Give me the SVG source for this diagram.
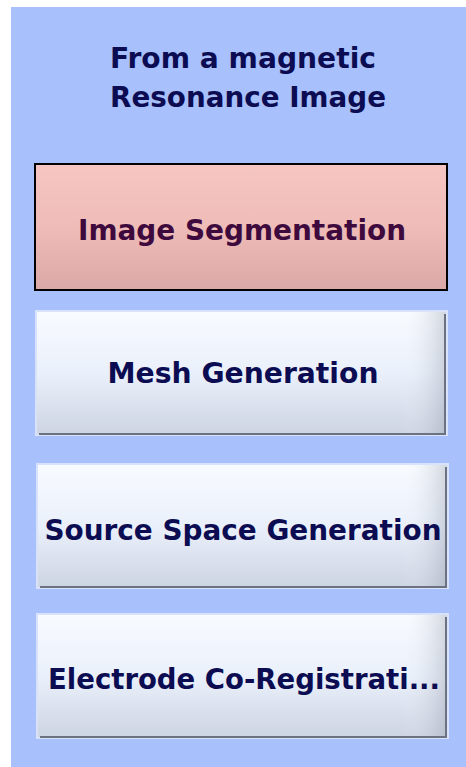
<svg xmlns="http://www.w3.org/2000/svg" width="466" height="767" viewBox="0 0 466 767">
<defs>
<linearGradient id="gw" x1="0" y1="0" x2="0" y2="1">
<stop offset="0" stop-color="#f8fbff"/>
<stop offset="0.5" stop-color="#eaf0fb"/>
<stop offset="1" stop-color="#cdd4e2"/>
</linearGradient>
<linearGradient id="gp" x1="0" y1="0" x2="0" y2="1">
<stop offset="0" stop-color="#f6c6c2"/>
<stop offset="0.5" stop-color="#efbcb8"/>
<stop offset="1" stop-color="#daa8a6"/>
</linearGradient>
<linearGradient id="gr" x1="0" y1="0" x2="1" y2="0">
<stop offset="0" stop-color="#ffffff" stop-opacity="0"/>
<stop offset="1" stop-color="#8890a0" stop-opacity="0.35"/>
</linearGradient>
</defs>
<style>
.t{font-family:"DejaVu Sans","Liberation Sans",sans-serif;font-weight:bold;text-anchor:middle}
.title{fill:#0c0c52;font-size:29px}
.lbl{fill:#0c0c52;font-size:29px}
.sel{fill:#3e0a3e;font-size:29px}
.btn{fill:url(#gw);stroke:#d8e2fa;stroke-width:2}
.edge{fill:none;stroke:#6c7280;stroke-width:2}
</style>
<rect x="11" y="7" width="455" height="760" fill="#a8c0fc"/>
<g id="title">
<text class="t title" x="243" y="68" textLength="266" lengthAdjust="spacingAndGlyphs">From a magnetic</text>
<text class="t title" x="248" y="107" textLength="276" lengthAdjust="spacingAndGlyphs">Resonance Image</text>
</g>
<g id="image-segmentation">
<rect x="35" y="164" width="412" height="126" fill="url(#gp)" stroke="#000" stroke-width="2"/>
<text class="t sel" x="242" y="240" textLength="328" lengthAdjust="spacingAndGlyphs">Image Segmentation</text>
</g>
<g id="mesh-generation">
<rect class="btn" x="36" y="311" width="411" height="124"/>
<rect x="400" y="312" width="46" height="122" fill="url(#gr)"/>
<path class="edge" d="M445 314 V434 H39"/>
<text class="t lbl" x="243" y="383" textLength="271" lengthAdjust="spacingAndGlyphs">Mesh Generation</text>
</g>
<g id="source-space-generation">
<rect class="btn" x="37" y="464" width="411" height="124"/>
<rect x="401" y="465" width="46" height="122" fill="url(#gr)"/>
<path class="edge" d="M446 467 V587 H40"/>
<text class="t lbl" x="243" y="540" textLength="397" lengthAdjust="spacingAndGlyphs">Source Space Generation</text>
</g>
<g id="electrode-co-registration">
<rect class="btn" x="37" y="614" width="411" height="124"/>
<rect x="401" y="615" width="46" height="122" fill="url(#gr)"/>
<path class="edge" d="M446 617 V737 H40"/>
<text class="t lbl" x="244" y="689" textLength="392" lengthAdjust="spacingAndGlyphs">Electrode Co-Registrati...</text>
</g>
<g id="connectors"/>
</svg>
